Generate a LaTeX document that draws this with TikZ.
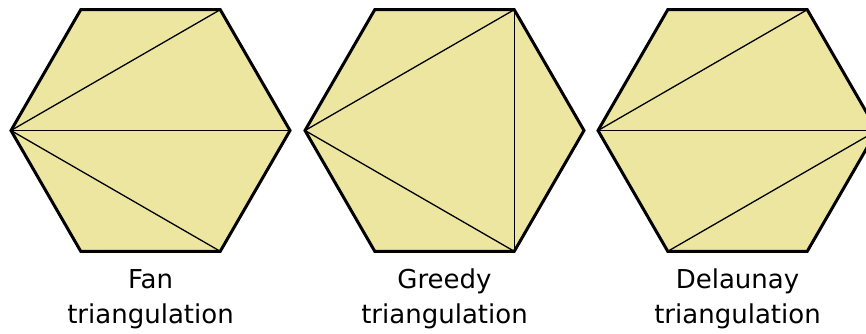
\documentclass[tikz,border=0pt]{standalone}
\usepackage{fontspec}
\setmainfont{DejaVu Sans}
\usepackage{xcolor}
\definecolor{hexyellow}{RGB}{236,230,161}
\usepackage{tikz}
\usetikzlibrary{positioning}
\tikzset{
  hexfill/.style={fill=hexyellow,draw=none},
  hexedge/.style={draw=black,line width=3pt,line join=miter},
  diag/.style={draw=black,line width=1.3pt},
  etiqueta/.style={font=\fontsize{26}{35}\selectfont,align=center,anchor=base,inner sep=0pt}
}
% vertices #1-0 ... #1-5, counter-clockwise from the right corner
\newcommand{\hexpuntos}[3]{%
  \foreach \k in {0,...,5}{\coordinate (#1-\k) at ([shift={(#2,#3)}]\k*60:139.5);}}
\newcommand{\hexrelleno}[1]{%
  \fill[hexfill] (#1-0) -- (#1-1) -- (#1-2) -- (#1-3) -- (#1-4) -- (#1-5) -- cycle;}
\newcommand{\hexborde}[1]{%
  \draw[hexedge] (#1-0) -- (#1-1) -- (#1-2) -- (#1-3) -- (#1-4) -- (#1-5) -- cycle;}

\begin{document}
\begin{tikzpicture}[x=1pt,y=1pt]
  \clip (0,0) rectangle (866,333);
  \fill[white] (0,0) rectangle (866,333);
  \hexpuntos{fan}{150.5}{202.5}
  \hexpuntos{greedy}{444.5}{202.5}
  \hexpuntos{delaunay}{737.5}{202.5}
  \foreach \h in {fan,greedy,delaunay}{\hexrelleno{\h}}
  % Fan
  \draw[diag] (fan-3) -- (fan-1);
  \draw[diag] (fan-3) -- (fan-0);
  \draw[diag] (fan-3) -- (fan-5);
  % Greedy
  \draw[diag] (greedy-3) -- (greedy-1);
  \draw[diag] (greedy-3) -- (greedy-5);
  \draw[diag] (greedy-1) -- (greedy-5);
  % Delaunay
  \draw[diag] (delaunay-3) -- (delaunay-1);
  \draw[diag] (delaunay-3) -- (delaunay-0);
  \draw[diag] (delaunay-0) -- (delaunay-4);
  \foreach \h in {fan,greedy,delaunay}{\hexborde{\h}}
  % base = baseline of the last line
  \node[etiqueta] (lfan) at (150.5,10) {Fan\\triangulation};
  \node[etiqueta] (lgreedy) at (444.5,10) {Greedy\\triangulation};
  \node[etiqueta] (ldelaunay) at (737.5,10) {Delaunay\\triangulation};
\end{tikzpicture}
\end{document}
